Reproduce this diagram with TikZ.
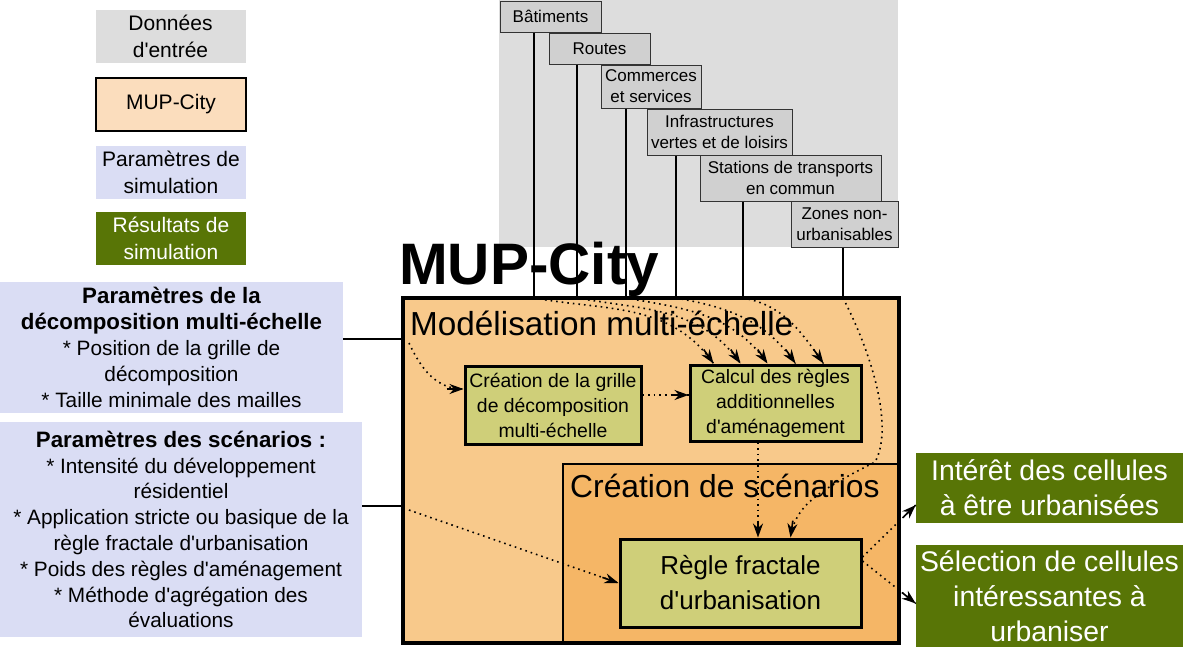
\documentclass[tikz,border=0pt]{standalone}
\usepackage{fontspec}
\setmainfont{Liberation Sans}[Ligatures=TeXOff]
\usetikzlibrary{arrows.meta,decorations.markings}

\definecolor{inputbg}{HTML}{DDDDDD}
\definecolor{inputgray}{HTML}{D0D0D0}
\definecolor{mupbg}{HTML}{F8C98B}
\definecolor{mupleg}{HTML}{FBDDBD}
\definecolor{scenbg}{HTML}{F5B666}
\definecolor{procbg}{HTML}{CFCF79}
\definecolor{parambg}{HTML}{DADDF4}
\definecolor{resbg}{HTML}{587506}

\newcommand{\headline}[1]{{\fontsize{22.3}{25.8}\selectfont\bfseries #1}}

\tikzstyle{input}=[draw=black!80, fill=inputgray, line width=1pt, inner sep=0pt, align=center, font=\fontsize{17}{21}\selectfont]
\tikzstyle{legend}=[inner sep=0pt, minimum width=150pt, minimum height=53pt, align=center, font=\fontsize{21}{27}\selectfont]
\tikzstyle{process}=[draw, fill=procbg, line width=3pt, inner sep=0pt, align=center, font=\fontsize{19.4}{25}\selectfont]
\tikzstyle{param}=[fill=parambg, inner sep=0pt, align=center, font=\fontsize{20.8}{25.8}\selectfont]
\tikzstyle{result}=[fill=resbg, text=white, inner sep=0pt, align=center, minimum width=267pt, font=\fontsize{28.4}{35}\selectfont]
\tikzstyle{title}=[anchor=base west, inner sep=0pt]
\tikzstyle{link} = [draw, line width=1.5pt, -]
\tikzstyle{flow} = [draw, line width=1.6pt, dash pattern=on 1.6pt off 4pt,
	postaction={decorate, decoration={markings, mark=at position 1 with {\pgfsetdash{}{0pt}
		\draw[line width=1.6pt] (-17pt,0pt) -- (-6pt,0pt); \arrow{Stealth[length=14pt,width=10pt,inset=4.5pt]}}}}]

\begin{document}
\begin{tikzpicture}[x=1pt, y=-1pt]
	\useasboundingbox (0,0) rectangle (1183,646);
	% legend
	\node[legend, fill=inputbg] (legInput) at (170.5,36.5) {Données\\d'entrée};
	\node[legend, draw, line width=2pt, fill=mupleg] (legMup) at (171,104) {MUP-City};
	\node[legend, fill=parambg] (legParam) at (171,172.5) {Paramètres de\\simulation};
	\node[legend, fill=resbg, text=white] (legRes) at (171,238.5) {Résultats de\\simulation};

	% input data
	\fill[inputbg] (499,0) rectangle (898,247);
	\foreach \pos/\name/\w/\h/\txt in {{(550.5,16.5)/bati/101/31/{Bâtiments}}, {(599.5,48.5)/routes/101/31/{Routes}},
		{(651,86.5)/commerces/100/43/{Commerces\\et services}}, {(719.5,132)/infra/145/46/{Infrastructures\\vertes et de loisirs}},
		{(790.5,178)/stations/181/46/{Stations de transports\\en commun}}, {(844.5,224)/zones/107/46/{Zones non-\\urbanisables}}}
		\node[input, minimum width=\w pt, minimum height=\h pt] (\name) at \pos {\txt};

	% MUP-City
	\node[title, font=\fontsize{58.5}{58}\selectfont\bfseries] (mupTitle) at (399,284) {MUP-City};
	\node[draw, fill=mupbg, line width=4pt, minimum width=496pt, minimum height=345pt, inner sep=0pt] (mup) at (651,470.5) {};
	\node[draw, fill=scenbg, line width=2.5pt, minimum width=335pt, minimum height=178pt, inner sep=0pt] (scen) at (730.5,553) {};
	\node[title, font=\fontsize{33.3}{33}\selectfont] (mupLabel) at (410,335) {Modélisation multi-échelle};
	\node[title, font=\fontsize{31.8}{32}\selectfont] (scenLabel) at (570,497) {Création de scénarios};

	\node[process, minimum width=176pt, minimum height=78pt] (grille) at (553,405) {Création de la grille\\de décomposition\\multi-échelle};
	\node[process, minimum width=171pt, minimum height=76pt] (calcul) at (775.5,403) {Calcul des règles\\additionnelles\\d'aménagement};
	\node[process, minimum width=241pt, minimum height=88pt, font=\fontsize{26}{35}\selectfont] (regle) at (740.5,583) {Règle fractale\\d'urbanisation};

	% parameters
	\node[param, minimum width=343pt, minimum height=131pt] (paramDec) at (171.5,347.5) {\headline{Paramètres de la}\\\headline{décomposition multi-échelle}\\* Position de la grille de\\décomposition\\* Taille minimale des mailles};
	\node[param, minimum width=362pt, minimum height=215pt] (paramScen) at (181,529.5) {\headline{Paramètres des scénarios :}\\* Intensité du développement\\résidentiel\\* Application stricte ou basique de la\\règle fractale d'urbanisation\\* Poids des règles d'aménagement\\* Méthode d'agrégation des\\évaluations};

	% results
	\node[result, minimum height=70pt] (resInteret) at (1049.5,488) {Intérêt des cellules\\à être urbanisées};
	\node[result, minimum height=102pt] (resSelect) at (1049.5,596) {Sélection de cellules\\intéressantes à\\urbaniser};

	% connectors
	\foreach \name/\xpos in {bati/534, routes/577, commerces/626, infra/676, stations/743, zones/843}{
		\coordinate (in-\name) at (\xpos,298);
		\path[link] (\name.south -| in-\name) -- (in-\name);
	}
	\foreach \name/\dx in {bati/-62, routes/-35, commerces/-8, infra/20, stations/48}
		\path[flow] (in-\name) to[out=-10, in=125] ([xshift=\dx pt]calcul.north);
	\path[flow] (in-zones) .. controls (875,360) and (893,430) .. (875,462) .. controls (820,490) and (795,505) .. ([xshift=50pt]regle.north);
	\path[flow] ([xshift=-17.5pt]calcul.south) -- ([xshift=17.5pt]regle.north);

	\coordinate (pinDec) at (403,339);
	\coordinate (pinScen) at (403,506);
	\path[link] (paramDec.east |- pinDec) -- (pinDec);
	\path[link] (paramScen.east |- pinScen) -- (pinScen);
	\path[flow] ([xshift=6pt,yshift=-4pt]pinDec) to[out=-65, in=180] ([yshift=16pt]grille.west);
	\path[flow] ([yshift=10pt]grille.east) -- ([yshift=10pt]grille.east -| calcul.west);
	\path[flow] ([xshift=6pt,yshift=-4pt]pinScen) -- (regle.west);

	\path[flow] ([yshift=26pt]regle.east) -- ([yshift=-17pt]resInteret.west);
	\path[flow] ([yshift=22pt]regle.east) -- ([yshift=-7.5pt]resSelect.west);
\end{tikzpicture}
\end{document}
